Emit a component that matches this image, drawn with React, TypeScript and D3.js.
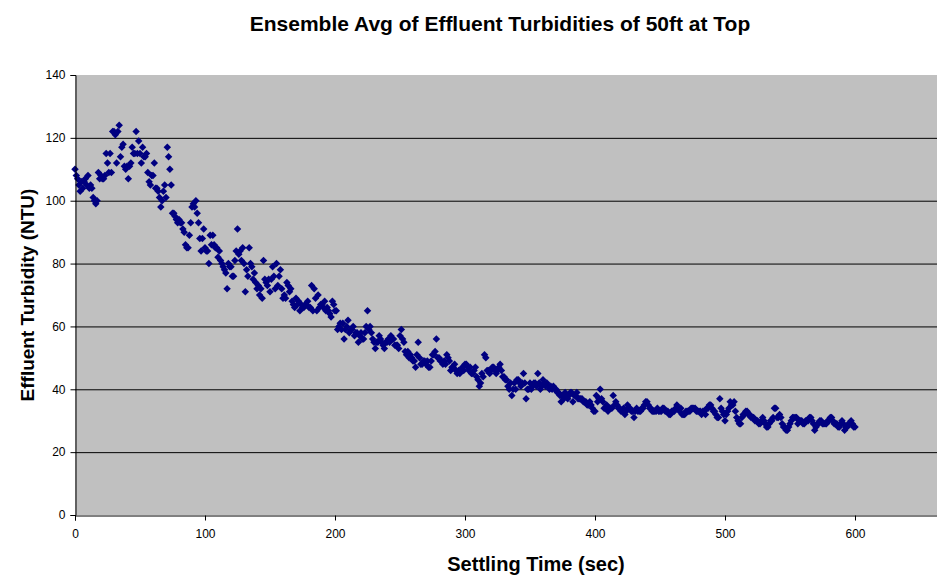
import React, { useEffect, useRef } from "react";
import * as d3 from "d3";

// Ensemble average effluent turbidity (NTU), one reading per second, 0..600 s
const turbidity = [
  110, 108, 107, 105, 103, 106, 104, 106, 107, 105,
  108, 104, 105, 104, 101, 100, 99, 100, 109, 107,
  108, 107, 107, 108, 115, 112, 109, 115, 109, 122,
  122, 121, 112, 122, 124, 114, 117, 118, 111, 110,
  111, 107, 111, 112, 117, 115, 115, 122, 115, 119,
  115, 112, 117, 114, 114, 115, 109, 106, 105, 108,
  108, 112, 104, 104, 103, 101, 98, 100, 103, 105,
  101, 117, 114, 110, 105, 96, 96, 95, 94, 93,
  94, 93, 93, 91, 90, 86, 85, 85, 89, 93,
  98, 99, 98, 100, 96, 93, 88, 84, 88, 91,
  85, 84, 84, 80, 89, 86, 89, 86, 85, 85,
  82, 84, 81, 80, 79, 78, 77, 72, 80, 79,
  79, 76, 76, 81, 84, 91, 83, 84, 81, 85,
  80, 71, 78, 76, 85, 80, 79, 75, 77, 74,
  72, 73, 70, 72, 69, 81, 75, 74, 73, 75,
  71, 75, 79, 76, 72, 80, 73, 76, 78, 72,
  69, 70, 69, 74, 73, 71, 72, 68, 67, 66,
  69, 67, 68, 65, 67, 66, 66, 67, 67, 68,
  66, 66, 73, 65, 72, 69, 65, 70, 66, 67,
  67, 66, 68, 65, 66, 65, 64, 63, 68, 67,
  65, 65, 59, 60, 61, 59, 61, 56, 59, 60,
  62, 58, 59, 59, 60, 57, 58, 58, 55, 57,
  58, 56, 56, 58, 60, 65, 59, 60, 58, 56,
  55, 53, 55, 55, 57, 56, 55, 54, 53, 55,
  55, 56, 55, 57, 56, 56, 54, 54, 54, 53,
  57, 59, 56, 55, 52, 51, 52, 50, 51, 50,
  49, 49, 47, 51, 55, 50, 48, 48, 49, 49,
  48, 49, 47, 47, 49, 51, 51, 52, 56, 50,
  50, 49, 49, 48, 49, 48, 51, 50, 49, 46,
  47, 47, 48, 46, 45, 46, 45, 46, 47, 46,
  48, 48, 47, 46, 47, 45, 45, 46, 47, 44,
  43, 41, 42, 45, 44, 51, 50, 46, 46, 45,
  46, 47, 47, 46, 45, 46, 47, 48, 46, 44,
  44, 43, 43, 41, 40, 42, 38, 40, 42, 40,
  43, 43, 42, 41, 42, 45, 42, 37, 40, 40,
  42, 40, 41, 42, 42, 41, 45, 42, 40, 41,
  43, 42, 41, 42, 41, 40, 41, 40, 41, 40,
  40, 39, 39, 38, 36, 38, 37, 39, 38, 37,
  38, 39, 39, 36, 38, 38, 39, 37, 37, 37,
  37, 36, 36, 36, 35, 35, 36, 35, 34, 33,
  33, 38, 36, 37, 40, 37, 36, 34, 34, 35,
  33, 34, 34, 34, 38, 35, 36, 35, 34, 34,
  33, 33, 34, 32, 33, 35, 34, 34, 33, 33,
  31, 33, 34, 33, 33, 33, 34, 34, 35, 36,
  36, 35, 34, 34, 33, 33, 33, 33, 34, 33,
  33, 33, 34, 34, 33, 33, 33, 32, 32, 33,
  33, 33, 34, 35, 34, 33, 34, 32, 32, 32,
  33, 33, 33, 33, 34, 34, 34, 34, 33, 33,
  33, 33, 32, 33, 33, 32, 34, 34, 35, 35,
  34, 33, 33, 32, 31, 31, 37, 34, 33, 32,
  30, 32, 33, 34, 36, 35, 35, 36, 33, 31,
  30, 29, 29, 31, 32, 32, 33, 33, 32, 32,
  31, 31, 31, 30, 30, 30, 29, 29, 30, 31,
  30, 29, 28, 28, 29, 30, 30, 31, 34, 34,
  31, 31, 32, 31, 29, 28, 28, 27, 27, 28,
  29, 30, 31, 31, 31, 31, 29, 30, 30, 30,
  29, 29, 30, 30, 30, 31, 31, 30, 29, 27,
  28, 29, 29, 30, 30, 29, 29, 29, 29, 30,
  30, 31, 31, 30, 29, 29, 29, 28, 28, 29,
  30, 29, 27, 28, 28, 29, 29, 30, 29, 28,
  28,
];
const timeStep = 1; // seconds between readings

// 700 is the axis max; the picture is cropped before its label
const xTicks = [0, 100, 200, 300, 400, 500, 600];
const yTicks = [0, 20, 40, 60, 80, 100, 120, 140];

const title = "Ensemble Avg of Effluent Turbidities of 50ft at Top";
const xLabel = "Settling Time (sec)";
const yLabel = "Effluent Turbidity (NTU)";

const width = 937;
const height = 584;
const font = "'Liberation Sans', Arial, sans-serif";

// square diamond like Excel's marker
const diamond: d3.SymbolType = {
  draw(ctx, size) {
    const r = Math.sqrt(size / 2);
    ctx.moveTo(0, -r);
    ctx.lineTo(r, 0);
    ctx.lineTo(0, r);
    ctx.lineTo(-r, 0);
    ctx.closePath();
  },
};

const App: React.FC = () => {
  const svgRef = useRef<SVGSVGElement | null>(null);

  useEffect(() => {
    document.body.style.margin = "0";
    const svg = d3.select(svgRef.current);
    svg.selectAll("*").remove();

    const x = d3.scaleLinear().domain([0, 700]).range([75, 985]);
    const y = d3.scaleLinear().domain([0, 140]).range([515, 75]);

    svg.append("rect").attr("width", width).attr("height", height).attr("fill", "#fff");

    // plot area
    svg
      .append("rect")
      .attr("x", x(0))
      .attr("y", y(140))
      .attr("width", x(700) - x(0))
      .attr("height", y(0) - y(140))
      .attr("fill", "#c0c0c0");

    // gridlines
    svg
      .append("g")
      .selectAll("line")
      .data(yTicks.filter((t) => t > 0 && t < 140))
      .join("line")
      .attr("x1", x(0))
      .attr("x2", x(700))
      .attr("y1", (d) => y(d) + 0.5)
      .attr("y2", (d) => y(d) + 0.5)
      .attr("stroke", "#000")
      .attr("stroke-width", 1);

    // points
    const sym = d3.symbol().type(diamond).size(28);
    svg
      .append("g")
      .selectAll("path")
      .data(turbidity)
      .join("path")
      .attr("transform", (d, i) => `translate(${x(i * timeStep)},${y(d)})`)
      .attr("d", sym())
      .attr("fill", "#000080");

    // Y axis
    const yAxis = svg
      .append("g")
      .attr("transform", `translate(${x(0) + 0.5},0)`)
      .call(d3.axisLeft(y).tickValues(yTicks).tickSize(5).tickPadding(5));
    yAxis.select(".domain").attr("stroke", "#000");
    yAxis
      .selectAll("text")
      .attr("font-family", font)
      .attr("font-size", 12)
      .attr("fill", "#000");

    // X axis
    const xAxis = svg
      .append("g")
      .attr("transform", `translate(0,${y(0) + 0.5})`)
      .call(d3.axisBottom(x).tickValues(xTicks).tickSize(5).tickPadding(9));
    xAxis.select(".domain").attr("stroke", "#000");
    xAxis
      .selectAll("text")
      .attr("font-family", font)
      .attr("font-size", 12)
      .attr("fill", "#000");

    // Title
    svg
      .append("text")
      .attr("x", 500)
      .attr("y", 31)
      .attr("text-anchor", "middle")
      .attr("font-family", font)
      .attr("font-weight", "bold")
      .attr("font-size", 21)
      .text(title);

    // Axis titles
    svg
      .append("text")
      .attr("x", 536)
      .attr("y", 571)
      .attr("text-anchor", "middle")
      .attr("font-family", font)
      .attr("font-weight", "bold")
      .attr("font-size", 20)
      .text(xLabel);

    svg
      .append("text")
      .attr("transform", `translate(34,295) rotate(-90)`)
      .attr("text-anchor", "middle")
      .attr("font-family", font)
      .attr("font-weight", "bold")
      .attr("font-size", 19)
      .text(yLabel);
  }, []);

  return (
    <svg
      ref={svgRef}
      width={width}
      height={height}
      style={{ display: "block", position: "absolute", left: 0, top: 0 }}
    />
  );
};

export default App;
